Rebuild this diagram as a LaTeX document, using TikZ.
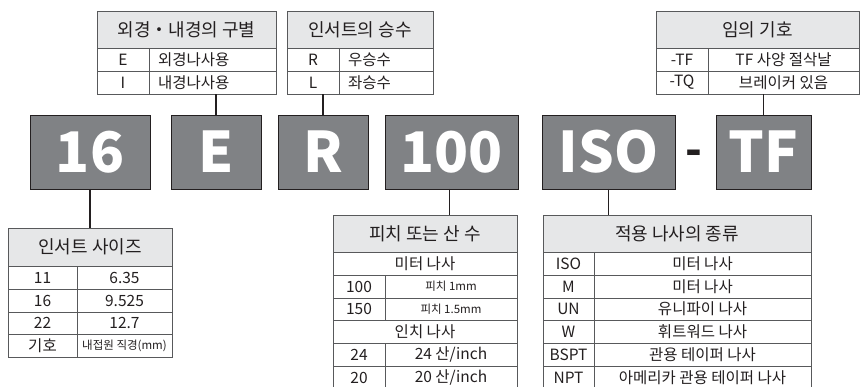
\documentclass[tikz,border=0pt]{standalone}
\usepackage{fontspec}
\setmainfont{Noto Sans CJK KR}
\definecolor{boxgray}{HTML}{808285}
\definecolor{hdrfill}{HTML}{E6E7E8}
\definecolor{bordercol}{HTML}{58595B}
\definecolor{ink}{HTML}{231F20}
\tikzset{
  base/.style={inner sep=0pt, outer sep=0pt, anchor=north west, draw=bordercol, line width=0.9pt, text=ink},
  hdr/.style={base, fill=hdrfill, font=\fontsize{18}{18}\selectfont},
  cell/.style={base, fill=white, font=\fontsize{15.5}{15.5}\selectfont},
  smallcell/.style={base, fill=white, font=\fontsize{11.5}{11.5}\selectfont},
  lcell/.style={cell, align=left},
  bigbox/.style={inner sep=0pt, outer sep=0pt, anchor=north west, fill=boxgray, draw=ink, line width=0.8pt,
    text=white, font=\fontsize{56}{56}\selectfont\bfseries},
  conn/.style={draw=ink, line width=1.4pt}
}
\newcommand\cellat[7]{\node[#1, minimum width=#5pt, minimum height=#6pt] (#2) at (#3,#4) {#7};}
\newcommand\lcellat[7]{\node[#1, minimum width=#5pt, minimum height=#6pt, text width=#5pt-18pt, inner xsep=9pt] (#2) at (#3,#4) {#7};}
\begin{document}
\begin{tikzpicture}[x=1pt,y=-1pt]
\useasboundingbox (0,0) rectangle (864,387);
\clip (0,0) rectangle (864,387);
\fill[white] (0,0) rectangle (864,387);

% big boxes
\cellat{bigbox}{b16}{30}{115}{120}{74}{16}
\cellat{bigbox}{bE}{171}{115}{90}{74}{E}
\cellat{bigbox}{bR}{278}{115}{90}{74}{R}
\cellat{bigbox}{b100}{385}{115}{133}{74}{100}
\cellat{bigbox}{bISO}{542}{115}{133}{74}{ISO}
\cellat{bigbox}{bTF}{716}{115}{95}{74}{TF}
\node[inner sep=0pt, text=ink, font=\fontsize{44}{44}\selectfont\bfseries] (dash) at (694,158) {-};

% table 1
\cellat{hdr}{t1h}{97}{11}{179}{37}{외경・내경의 구별}
\cellat{cell}{t1a1}{97}{48}{52}{23}{E}
\lcellat{lcell}{t1b1}{149}{48}{127}{23}{외경나사용}
\cellat{cell}{t1a2}{97}{71}{52}{23}{I}
\lcellat{lcell}{t1b2}{149}{71}{127}{23}{내경나사용}

% table 2
\cellat{hdr}{t2h}{287}{11}{146}{37}{인서트의 승수}
\cellat{cell}{t2a1}{287}{48}{52}{23}{R}
\lcellat{lcell}{t2b1}{339}{48}{94}{23}{우승수}
\cellat{cell}{t2a2}{287}{71}{52}{23}{L}
\lcellat{lcell}{t2b2}{339}{71}{94}{23}{좌승수}

% table 3
\cellat{hdr}{t3h}{656}{11}{203}{37}{임의 기호}
\cellat{cell}{t3a1}{656}{48}{52}{23}{-TF}
\cellat{cell}{t3b1}{708}{48}{151}{23}{TF 사양 절삭날}
\cellat{cell}{t3a2}{656}{71}{52}{23}{-TQ}
\cellat{cell}{t3b2}{708}{71}{151}{23}{브레이커 있음}

% sizes table
\cellat{hdr}{tsh}{8}{228}{164}{38}{인서트 사이즈}
\cellat{cell}{tsa1}{8}{266}{69}{23}{11}
\cellat{cell}{tsb1}{77}{266}{95}{23}{6.35}
\cellat{cell}{tsa2}{8}{289}{69}{23}{16}
\cellat{cell}{tsb2}{77}{289}{95}{23}{9.525}
\cellat{cell}{tsa3}{8}{312}{69}{22}{22}
\cellat{cell}{tsb3}{77}{312}{95}{22}{12.7}
\cellat{cell}{tsa4}{8}{334}{69}{23}{기호}
\cellat{smallcell}{tsb4}{77}{334}{95}{23}{내접원 직경(mm)}

% pitch table
\cellat{hdr}{tph}{333}{215}{184}{37}{피치 또는 산 수}
\cellat{cell}{tp1}{333}{252}{184}{23}{미터 나사}
\cellat{cell}{tpa2}{333}{275}{52}{23}{100}
\cellat{smallcell}{tpb2}{385}{275}{132}{23}{피치 1mm}
\cellat{cell}{tpa3}{333}{298}{52}{22}{150}
\cellat{smallcell}{tpb3}{385}{298}{132}{22}{피치 1.5mm}
\cellat{cell}{tp4}{333}{320}{184}{23}{인치 나사}
\cellat{cell}{tpa5}{333}{343}{52}{23}{24}
\cellat{cell}{tpb5}{385}{343}{132}{23}{24 산/inch}
\cellat{cell}{tpa6}{333}{366}{52}{23}{20}
\cellat{cell}{tpb6}{385}{366}{132}{23}{20 산/inch}

% thread table
\cellat{hdr}{tth}{543}{215}{268}{37}{적용 나사의 종류}
\cellat{cell}{tta1}{543}{252}{51}{23}{ISO}
\cellat{cell}{ttb1}{594}{252}{217}{23}{미터 나사}
\cellat{cell}{tta2}{543}{275}{51}{23}{M}
\cellat{cell}{ttb2}{594}{275}{217}{23}{미터 나사}
\cellat{cell}{tta3}{543}{298}{51}{22}{UN}
\cellat{cell}{ttb3}{594}{298}{217}{22}{유니파이 나사}
\cellat{cell}{tta4}{543}{320}{51}{23}{W}
\cellat{cell}{ttb4}{594}{320}{217}{23}{휘트워드 나사}
\cellat{cell}{tta5}{543}{343}{51}{23}{BSPT}
\cellat{cell}{ttb5}{594}{343}{217}{23}{관용 테이퍼 나사}
\cellat{cell}{tta6}{543}{366}{51}{23}{NPT}
\cellat{cell}{ttb6}{594}{366}{217}{23}{아메리카 관용 테이퍼 나사}

% connectors
\draw[conn] (bE.north) -- (bE.north |- t1b2.south);
\draw[conn] (bR.north) -- (bR.north |- t2b2.south);
\draw[conn] (bTF.north) -- (bTF.north |- t3b2.south);
\draw[conn] (b16.south) -- (b16.south |- tsh.north);
\draw[conn] ([xshift=-2pt]b100.south) -- ([xshift=-2pt]b100.south |- tph.north);
\draw[conn] (bISO.south) -- (bISO.south |- tth.north);
\end{tikzpicture}
\end{document}
